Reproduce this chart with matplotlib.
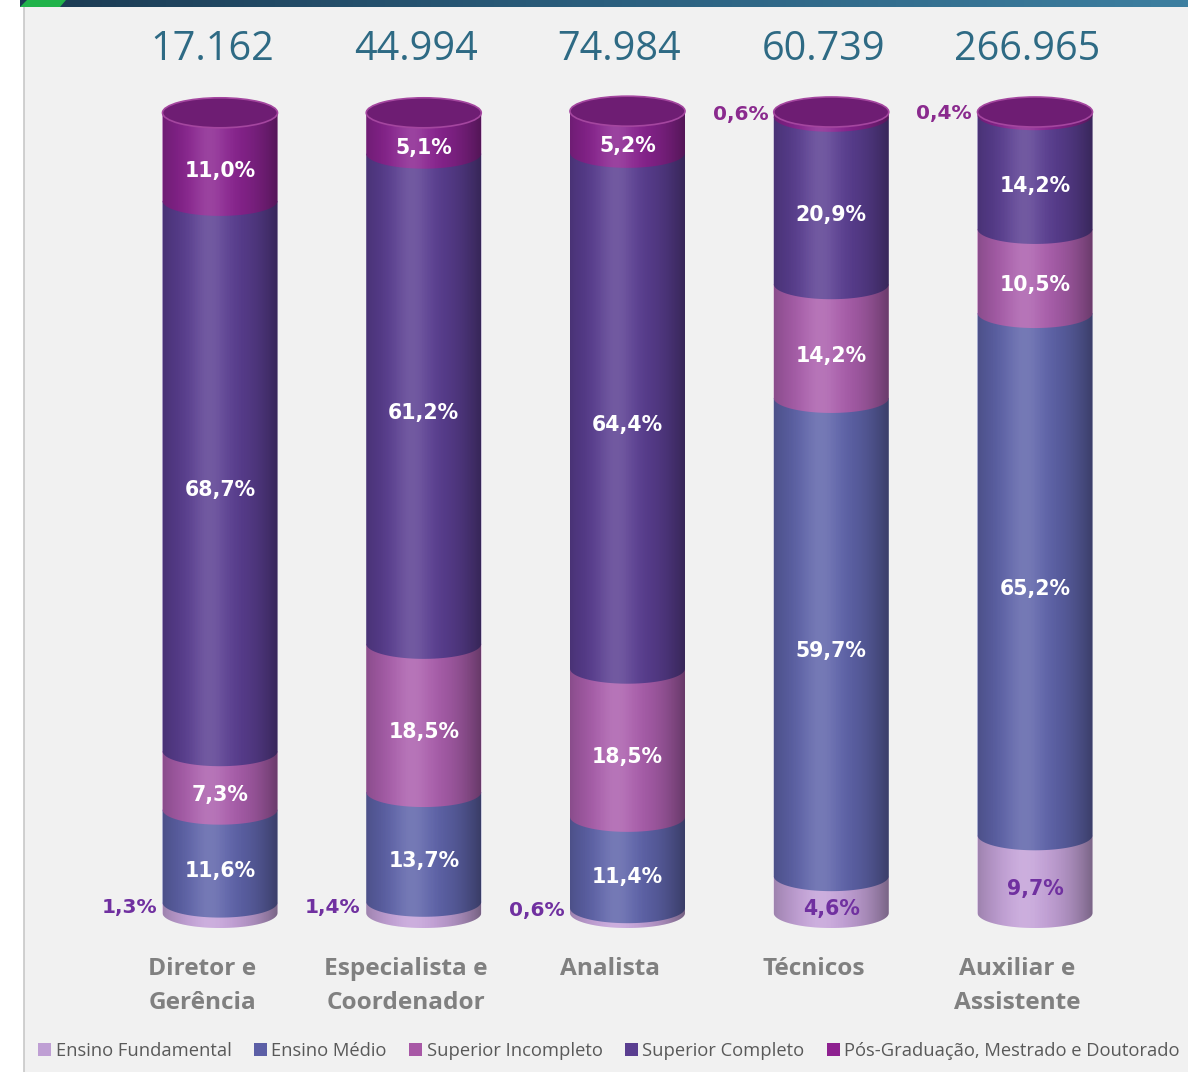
import numpy as np
import matplotlib
matplotlib.use("Agg")
import matplotlib.pyplot as plt
from matplotlib.patches import Polygon, Ellipse, Patch, Rectangle
import matplotlib.colors as mcolors

# ---------------- data ----------------
categories = ["Diretor e\nGerência", "Especialista e\nCoordenador", "Analista",
              "Técnicos", "Auxiliar e\nAssistente"]
totals = ["17.162", "44.994", "74.984", "60.739", "266.965"]
series_names = ["Ensino Fundamental", "Ensino Médio", "Superior Incompleto",
                "Superior Completo", "Pós-Graduação, Mestrado e Doutorado"]
ensino_fundamental = [1.3, 1.4, 0.6, 4.6, 9.7]
ensino_medio = [11.6, 13.7, 11.4, 59.7, 65.2]
superior_incompleto = [7.3, 18.5, 18.5, 14.2, 10.5]
superior_completo = [68.7, 61.2, 64.4, 20.9, 14.2]
pos_graduacao = [11.0, 5.1, 5.2, 0.6, 0.4]

series = [ensino_fundamental, ensino_medio, superior_incompleto,
          superior_completo, pos_graduacao]
colors = ["#c4a2d8", "#5f64aa", "#ab5fad", "#5b3f92", "#8a2490"]
legend_colors = ["#bf9fd4", "#5c5fa6", "#a858a6", "#5a3e90", "#8e2190"]

W, H = 1188, 1072
fig = plt.figure(figsize=(W / 100, H / 100), dpi=100, facecolor="white")

# ---------------- background decoration (pixel coords) ----------------
bg = fig.add_axes([0, 0, 1, 1])
bg.set_xlim(0, W)
bg.set_ylim(H, 0)
bg.axis("off")
bg.add_patch(Rectangle((24, 7), W - 24, H - 7, facecolor="#f1f1f1", edgecolor="none"))
bg.plot([24, 24], [7, H], color="#c8c8c8", lw=1.2)
grad = np.linspace(0, 1, 256)[None, :]
cmap_band = mcolors.LinearSegmentedColormap.from_list("band", ["#1b3a52", "#2b5f7e", "#3d7fa0"])
bg.imshow(grad, extent=(20, W, 7, 0), cmap=cmap_band, aspect="auto", zorder=2)
bg.add_patch(Polygon([[20, 7], [60, 7], [66, 0], [27, 0]], closed=True,
                     facecolor="#21b34a", edgecolor="none", zorder=3))
bg.set_xlim(0, W)
bg.set_ylim(H, 0)

# ---------------- main axes ----------------
ax_left = 24 / W
ax = fig.add_axes([ax_left, 0, 1 - ax_left, 1])
ax.patch.set_alpha(0)
ax.axis("off")

px_per_unit = 8.01
zero_px = 913
spacing = 203.75
first_center = 220
xlim = (-(first_center - 24) / spacing, (W - first_center) / spacing)
ylim = (-(H - zero_px) / px_per_unit, zero_px / px_per_unit)

x = np.arange(len(categories))
bw = 115 / spacing
eh = 30 / px_per_unit  # ellipse height in data units

shade_profile = np.linspace(0, 1, 300)
dark_alpha = 0.40 * (np.abs(shade_profile - 0.42) / 0.58) ** 2.2
dark = np.zeros((1, 300, 4))
dark[..., 3] = dark_alpha
light = np.ones((1, 300, 4))
light[..., 3] = 0.14 * np.exp(-((shade_profile - 0.40) / 0.16) ** 2)

theta = np.linspace(np.pi, 2 * np.pi, 60)

for i, xc in enumerate(x):
    x0, x1 = xc - bw / 2, xc + bw / 2
    bottom = 0.0
    for s, vals in enumerate(series):
        v = vals[i]
        lo, hi = bottom, bottom + v
        arc = np.column_stack([xc + bw / 2 * np.cos(theta), lo + eh / 2 * np.sin(theta)])
        pts = np.vstack([[x0, hi], [x0, lo], arc, [x1, lo], [x1, hi]])
        ax.add_patch(Polygon(pts, closed=True, facecolor=colors[s], edgecolor="none", zorder=2))
        bottom = hi
    top = bottom
    # shading over whole cylinder
    arc0 = np.column_stack([xc + bw / 2 * np.cos(theta), eh / 2 * np.sin(theta)])
    outline = np.vstack([[x0, top], [x0, 0], arc0, [x1, 0], [x1, top]])
    clip = Polygon(outline, closed=True, transform=ax.transData)
    for img in (dark, light):
        im = ax.imshow(img, extent=(x0, x1, -eh, top + 1), aspect="auto", zorder=3,
                       interpolation="bilinear")
        im.set_clip_path(clip)
    # top ellipse
    top_col = np.array(mcolors.to_rgb(colors[-1])) * 0.8
    ax.add_patch(Ellipse((xc, top), bw, eh, facecolor=top_col, edgecolor="#a4469f",
                         lw=1.2, zorder=4))

    # labels
    bottom = 0.0
    for s, vals in enumerate(series):
        v = vals[i]
        mid = bottom + v / 2
        txt = f"{v:.1f}".replace(".", ",") + "%"
        if v < 1.5:
            col = "#7030a0" if s == 0 else "#8a2a8e"
            ax.annotate(txt, (x0, mid), xytext=(-4, 0), textcoords="offset points",
                        ha="right", va="center", fontsize=14.5, fontweight="bold",
                        color=col, zorder=6)
        elif s == 0:
            ax.text(xc, mid - 1.8, txt, ha="center", va="center", fontsize=14.8,
                    fontweight="bold", color="#7030a0", zorder=6)
        else:
            ax.text(xc, mid - 1.8, txt, ha="center", va="center", fontsize=14.8,
                    fontweight="bold", color="white", zorder=6)
        bottom += v

    # totals
    ax.text(xc - 0.04, (zero_px - 50) / px_per_unit, totals[i], ha="center", va="center",
            fontsize=28.5, family="Open Sans", color="#2e6a84", zorder=6)
    # category labels
    ax.text(xc - 18 / spacing, (zero_px - 957) / px_per_unit, categories[i], ha="center",
            va="top", fontsize=17.6, family="Open Sans", fontweight="bold", color="#808080",
            linespacing=1.55, zorder=6)

ax.set_xlim(*xlim)
ax.set_ylim(*ylim)

handles = [Patch(facecolor=c, edgecolor="none") for c in legend_colors]
fig.legend(handles, series_names, loc="center left",
           bbox_to_anchor=(31 / W, 1 - 1051 / H), ncol=5, frameon=False,
           prop={"family": "Open Sans", "size": 13.2}, labelcolor="#595959",
           handlelength=0.7, handleheight=0.7, handletextpad=0.25,
           columnspacing=1.22, borderaxespad=0)

fig.savefig("out.png", dpi=100, facecolor=fig.get_facecolor())
